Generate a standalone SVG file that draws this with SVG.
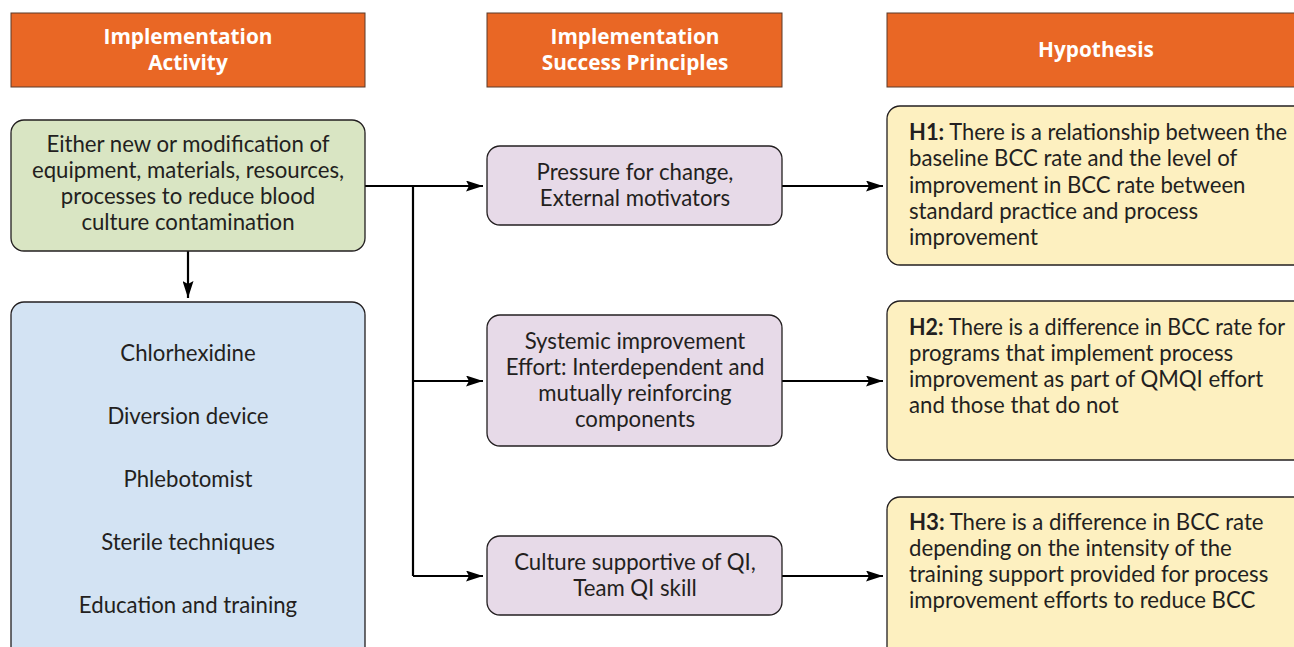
<svg xmlns="http://www.w3.org/2000/svg" width="1294" height="647" viewBox="0 0 1294 647">
<style>
.hdr{fill:#E96725;stroke:#5a3a2a;stroke-width:1}
.ht{font-family:"Open Sans","Liberation Sans",sans-serif;font-weight:bold;font-size:20.8px;fill:#fff;text-anchor:middle}
.box{stroke:#231F20;stroke-width:1.3}
.green{fill:#D9E5C3}
.blue{fill:#D3E3F3}
.purple{fill:#E7DAE8}
.yellow{fill:#FDF0C0}
.t{font-family:Lato,"Liberation Sans",sans-serif;font-size:22.2px;fill:#231F20}
.c{text-anchor:middle}
.conn{stroke:#000;stroke-width:2.2;fill:none}
</style>
<defs>
<marker id="ah2" markerWidth="17" markerHeight="11" refX="17" refY="5.5" orient="auto" markerUnits="userSpaceOnUse" viewBox="0 0 17 11">
<path d="M0,0 L17,5.5 L0,11 L3,5.5 z" fill="#000"/>
</marker>
</defs>
<rect width="1294" height="647" fill="#fff"/>

<g id="hdr-activity">
<rect class="hdr" x="11" y="13" width="354" height="74"/>
<text class="ht" x="188" y="44">Implementation</text>
<text class="ht" x="188" y="70">Activity</text>
</g>
<g id="hdr-principles">
<rect class="hdr" x="487" y="13" width="295" height="74"/>
<text class="ht" x="635" y="44">Implementation</text>
<text class="ht" x="635" y="70">Success Principles</text>
</g>
<g id="hdr-hypothesis">
<rect class="hdr" x="887" y="13" width="420" height="74"/>
<text class="ht" x="1096" y="57">Hypothesis</text>
</g>

<g id="connectors">
<path class="conn" d="M365,186 H413 V576"/>
<path class="conn" d="M413,186 H483" marker-end="url(#ah2)"/>
<path class="conn" d="M413,381 H483" marker-end="url(#ah2)"/>
<path class="conn" d="M413,576 H483" marker-end="url(#ah2)"/>
<path class="conn" d="M188,251 V298" marker-end="url(#ah2)"/>
<path class="conn" d="M782,186 H883" marker-end="url(#ah2)"/>
<path class="conn" d="M782,381 H883" marker-end="url(#ah2)"/>
<path class="conn" d="M782,576 H883" marker-end="url(#ah2)"/>
</g>

<g id="activity">
<rect class="box green" x="11" y="120" width="354" height="131" rx="13"/>
<text class="t c" x="188" y="152">Either new or modification of</text>
<text class="t c" x="188" y="178">equipment, materials, resources,</text>
<text class="t c" x="188" y="204">processes to reduce blood</text>
<text class="t c" x="188" y="230">culture contamination</text>
</g>

<g id="activity-list">
<rect class="box blue" x="11" y="302" width="354" height="370" rx="13"/>
<text class="t c" x="188" y="361">Chlorhexidine</text>
<text class="t c" x="188" y="424">Diversion device</text>
<text class="t c" x="188" y="487">Phlebotomist</text>
<text class="t c" x="188" y="550">Sterile techniques</text>
<text class="t c" x="188" y="613">Education and training</text>
</g>

<g id="p1">
<rect class="box purple" x="487" y="146" width="295" height="79" rx="13"/>
<text class="t c" x="635" y="180">Pressure for change,</text>
<text class="t c" x="635" y="206">External motivators</text>
</g>
<g id="p2">
<rect class="box purple" x="487" y="315" width="295" height="131" rx="13"/>
<text class="t c" x="635" y="349">Systemic improvement</text>
<text class="t c" x="635" y="375">Effort: Interdependent and</text>
<text class="t c" x="635" y="401">mutually reinforcing</text>
<text class="t c" x="635" y="427">components</text>
</g>
<g id="p3">
<rect class="box purple" x="487" y="536" width="295" height="79" rx="13"/>
<text class="t c" x="635" y="570">Culture supportive of QI,</text>
<text class="t c" x="635" y="596">Team QI skill</text>
</g>

<g id="h1">
<rect class="box yellow" x="887" y="106" width="420" height="159" rx="13"/>
<text class="t" x="909" y="140" textLength="378" lengthAdjust="spacingAndGlyphs"><tspan font-weight="bold">H1:</tspan> There is a relationship between the</text>
<text class="t" x="909" y="166">baseline BCC rate and the level of</text>
<text class="t" x="909" y="193">improvement in BCC rate between</text>
<text class="t" x="909" y="219">standard practice and process</text>
<text class="t" x="909" y="245">improvement</text>
</g>
<g id="h2">
<rect class="box yellow" x="887" y="301" width="420" height="159" rx="13"/>
<text class="t" x="909" y="335" textLength="376" lengthAdjust="spacingAndGlyphs"><tspan font-weight="bold">H2:</tspan> There is a difference in BCC rate for</text>
<text class="t" x="909" y="361">programs that implement process</text>
<text class="t" x="909" y="387">improvement as part of QMQI effort</text>
<text class="t" x="909" y="413">and those that do not</text>
</g>
<g id="h3">
<rect class="box yellow" x="887" y="497" width="420" height="170" rx="13"/>
<text class="t" x="909" y="530"><tspan font-weight="bold">H3:</tspan> There is a difference in BCC rate</text>
<text class="t" x="909" y="556">depending on the intensity of the</text>
<text class="t" x="909" y="582">training support provided for process</text>
<text class="t" x="909" y="608">improvement efforts to reduce BCC</text>
</g>
</svg>
